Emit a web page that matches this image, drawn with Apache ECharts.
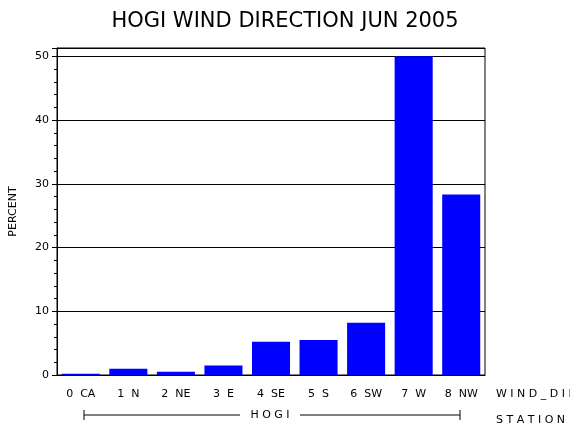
<!DOCTYPE html>
<html><head><meta charset="utf-8">
<script src="https://cdn.jsdelivr.net/npm/echarts@6/dist/echarts.min.js"></script>
<style>html,body{margin:0;padding:0;background:#fff}#c{width:570px;height:430px}</style>
</head><body><div id="c"></div>
<script>
var categories = ['0  CA', '1  N', '2  NE', '3  E', '4  SE', '5  S', '6  SW', '7  W', '8  NW'];
var percent = [0.2, 1.0, 0.5, 1.5, 5.2, 5.5, 8.2, 50.0, 28.3];

var font = 'DejaVu Sans';
var chart = echarts.init(document.getElementById('c'));
chart.setOption({
  animation: false,
  title: {
    text: 'HOGI WIND DIRECTION JUN 2005', left: 'center', top: 6,
    textStyle: { fontFamily: font, fontWeight: 'normal', fontSize: 21, color: '#000' }
  },
  grid: { left: 57, right: 85, top: 48, bottom: 55 },
  xAxis: {
    type: 'category', data: categories,
    axisLine: { lineStyle: { color: '#000' } },
    axisTick: { show: false },
    axisLabel: { color: '#000', fontFamily: font, fontSize: 11, margin: 14 }
  },
  yAxis: {
    type: 'value', min: 0, max: 51.3, interval: 10,
    name: 'PERCENT', nameLocation: 'middle', nameGap: 38,
    nameTextStyle: { fontFamily: font, fontSize: 11, color: '#000' },
    axisLine: { show: true, lineStyle: { color: '#000' } },
    axisTick: { show: true, length: 5, lineStyle: { color: '#000' } },
    minorTick: { show: true, splitNumber: 5, length: 3, lineStyle: { color: '#000' } },
    splitLine: { show: true, lineStyle: { color: '#000', width: 1 } },
    axisLabel: { color: '#000', fontFamily: font, fontSize: 11, showMaxLabel: false }
  },
  graphic: [
    { type: 'rect', shape: { x: 57, y: 48, width: 428, height: 327 }, style: { fill: 'none', stroke: '#000' }, silent: true },
    { type: 'line', shape: { x1: 84, y1: 415, x2: 240, y2: 415 }, style: { stroke: '#000' } },
    { type: 'line', shape: { x1: 300, y1: 415, x2: 460, y2: 415 }, style: { stroke: '#000' } },
    { type: 'line', shape: { x1: 84, y1: 410, x2: 84, y2: 420 }, style: { stroke: '#000' } },
    { type: 'line', shape: { x1: 460, y1: 410, x2: 460, y2: 420 }, style: { stroke: '#000' } },
    { type: 'text', x: 270, y: 415, style: { text: 'H O G I', fontFamily: font, fontSize: 11, fill: '#000', align: 'center', verticalAlign: 'middle' } },
    { type: 'text', x: 496, y: 394, style: { text: 'W I N D _ D I R', fontFamily: font, fontSize: 11, fill: '#000', verticalAlign: 'middle' } },
    { type: 'text', x: 496, y: 420, style: { text: 'S T A T I O N', fontFamily: font, fontSize: 11, fill: '#000', verticalAlign: 'middle' } }
  ],
  series: [{
    type: 'bar', data: percent, barCategoryGap: '20%',
    itemStyle: { color: '#0000ff' }
  }]
});
</script></body></html>
